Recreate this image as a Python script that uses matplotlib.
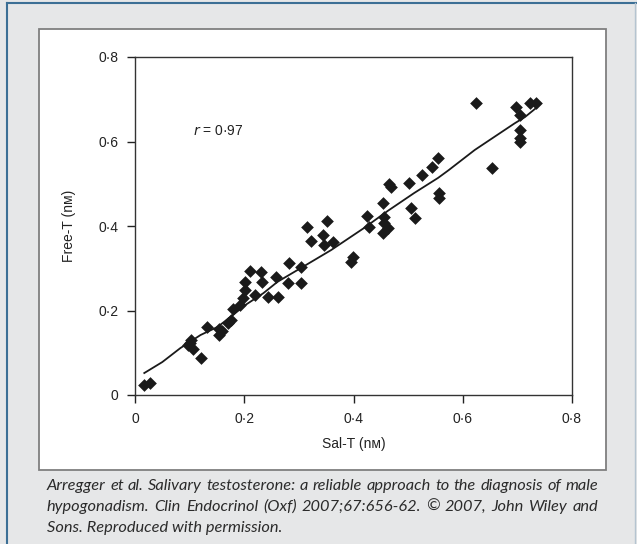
import matplotlib
matplotlib.use('Agg')
import matplotlib.pyplot as plt
from matplotlib.patches import Rectangle
from matplotlib.lines import Line2D

# Data
###############################################################################
sal_t = [0.017, 0.028, 0.120, 0.103, 0.097, 0.107, 0.100, 0.132, 0.153, 0.153,
         0.160, 0.171, 0.176, 0.180, 0.193, 0.197, 0.202, 0.202, 0.220, 0.233,
         0.243, 0.261, 0.210, 0.230, 0.259, 0.282, 0.303, 0.303, 0.280, 0.315,
         0.322, 0.344, 0.351, 0.346, 0.362, 0.399, 0.395, 0.425, 0.429, 0.454,
         0.456, 0.456, 0.463, 0.454, 0.469, 0.465, 0.502, 0.506, 0.513, 0.526,
         0.543, 0.557, 0.557, 0.555, 0.625, 0.697, 0.723, 0.734, 0.704, 0.704,
         0.704, 0.704, 0.653]
free_t = [0.024, 0.029, 0.087, 0.130, 0.118, 0.110, 0.122, 0.161, 0.156, 0.142,
          0.152, 0.170, 0.177, 0.203, 0.213, 0.230, 0.249, 0.268, 0.237, 0.268,
          0.232, 0.232, 0.293, 0.290, 0.280, 0.313, 0.303, 0.265, 0.265, 0.397,
          0.364, 0.379, 0.412, 0.355, 0.362, 0.327, 0.315, 0.424, 0.398, 0.454,
          0.421, 0.407, 0.395, 0.383, 0.492, 0.500, 0.501, 0.443, 0.419, 0.521,
          0.540, 0.478, 0.466, 0.561, 0.691, 0.682, 0.691, 0.691, 0.663, 0.627,
          0.608, 0.599, 0.537]

# smoothed fit line
fit_x = [0.017, 0.050, 0.083, 0.120, 0.151, 0.175, 0.202, 0.235, 0.261, 0.303,
         0.359, 0.419, 0.463, 0.511, 0.555, 0.574, 0.622, 0.666, 0.695, 0.714,
         0.734]
fit_y = [0.052, 0.078, 0.111, 0.142, 0.161, 0.185, 0.213, 0.241, 0.268, 0.300,
         0.343, 0.395, 0.436, 0.478, 0.514, 0.532, 0.580, 0.618, 0.643, 0.658,
         0.679]

ticks = [0, 0.2, 0.4, 0.6, 0.8]
tick_labels = ['0', '0\u00b72', '0\u00b74', '0\u00b76', '0\u00b78']

caption = ['Arregger et al. Salivary testosterone: a reliable approach to the diagnosis of male',
           'hypogonadism. Clin Endocrinol (Oxf) 2007;67:656-62.  \u00a9 2007, John Wiley and',
           'Sons. Reproduced with permission.']

# Figure
###############################################################################
W, H = 637, 544
plt.rcParams['font.family'] = ['Liberation Sans', 'DejaVu Sans']
fig = plt.figure(figsize=(W / 100, H / 100), dpi=100)
fig.patch.set_facecolor('#e6e7e8')


def px(x, y):
    return x / W, 1 - y / H


# blue frame lines
fig.add_artist(Line2D([px(7, 0)[0], px(7, 0)[0]], [px(0, 3)[1], 0],
                      color='#3c6f95', lw=1.5, zorder=-2))
fig.add_artist(Line2D([px(7, 0)[0], 1], [px(0, 3)[1], px(0, 3)[1]],
                      color='#3c6f95', lw=1.5, zorder=-2))
fig.add_artist(Line2D([px(635, 0)[0], px(635, 0)[0]], [px(0, 3)[1], 0],
                      color='#b5c4d0', lw=1, zorder=-2))
# white panel
x0, y0 = px(39, 470)
x1, y1 = px(606, 29)
fig.add_artist(Rectangle((x0, y0), x1 - x0, y1 - y0, transform=fig.transFigure,
                         facecolor='white', edgecolor='#7f7f7f', lw=1.3, zorder=-1))

l, t = px(135, 57)
r, b = px(572, 395)
ax = fig.add_axes([l, b, r - l, t - b])
ax.set_facecolor('white')

ax.scatter(sal_t, free_t, marker='D', s=42, color='#1a1a1a', linewidths=0, zorder=3)
ax.plot(fit_x, fit_y, color='#1a1a1a', lw=1.3, zorder=2)

ax.set_xlim(0, 0.8)
ax.set_ylim(0, 0.8)
ax.set_xticks(ticks)
ax.set_xticklabels(tick_labels)
ax.set_yticks(ticks)
ax.set_yticklabels(tick_labels)
ax.tick_params(direction='out', length=6, width=1, labelsize=10, colors='#222222',
               pad=6)
for s in ax.spines.values():
    s.set_color('#333333')
    s.set_linewidth(1)

ax.set_xlabel('Sal-T (n\u1d0d)', fontsize=10, labelpad=8, color='#222222')
ax.set_ylabel('Free-T (n\u1d0d)', fontsize=10, labelpad=16, color='#222222')
ax.text(0.107, 0.625, '$r$ = 0\u00b797', fontsize=10, color='#222222', va='center')

# caption, first two lines justified to the panel width
fig.canvas.draw()
renderer = fig.canvas.get_renderer()
left_px, right_px = 47, 598
cap_font = dict(fontsize=11.8, style='italic', family=['Lato', 'DejaVu Sans'],
                va='center', color='#2b2b2b')
for i, line in enumerate(caption):
    cy = px(0, 486 + i * 21)[1]
    if i == len(caption) - 1:
        fig.text(px(left_px, 0)[0], cy, line, **cap_font)
        continue
    words = line.split()
    arts = [fig.text(0, cy, w, **cap_font) for w in words]
    widths = [a.get_window_extent(renderer).width for a in arts]
    gap = (right_px - left_px - sum(widths)) / (len(words) - 1)
    xpos = left_px
    for a, w in zip(arts, widths):
        a.set_x(xpos / W)
        xpos += w + gap

fig.savefig('out.png', dpi=100, facecolor=fig.get_facecolor())
